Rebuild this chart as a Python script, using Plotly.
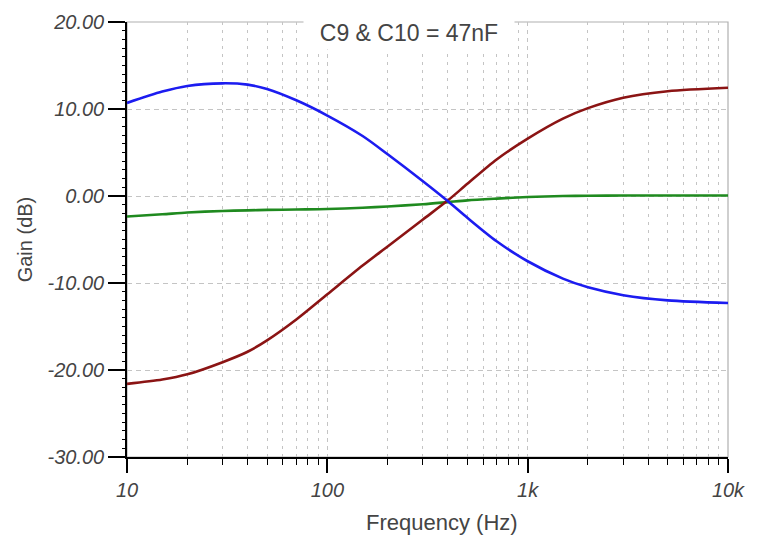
import plotly.graph_objects as go

freq_hz = [10, 15, 20, 30, 40, 50, 70, 100, 150, 200, 300, 400, 500, 700,
           1000, 1500, 2000, 3000, 5000, 10000]
gain_blue = [10.7, 12.0, 12.65, 12.95, 12.8, 12.3, 11.0, 9.25, 6.9, 4.8, 1.7, -0.6,
             -2.5, -5.2, -7.5, -9.5, -10.5, -11.4, -12.0, -12.3]
gain_red = [-21.6, -21.1, -20.5, -19.1, -17.9, -16.6, -14.2, -11.3, -8.0, -5.8, -2.7,
            -0.5, 1.4, 4.2, 6.6, 8.9, 10.1, 11.3, 12.05, 12.45]
gain_green = [-2.35, -2.1, -1.9, -1.72, -1.65, -1.6, -1.55, -1.5, -1.35, -1.2, -0.95,
              -0.7, -0.5, -0.3, -0.12, 0.0, 0.03, 0.05, 0.05, 0.05]

x_tickvals = [10, 100, 1000, 10000]
x_ticktext = ["10", "100", "1k", "10k"]
y_tickvals = [-30, -20, -10, 0, 10, 20]
y_ticktext = ["-30.00", "-20.00", "-10.00", "0.00", "10.00", "20.00"]

fig = go.Figure()
for ys, col in [(gain_green, "#1f8a1f"), (gain_red, "#8b1414"), (gain_blue, "#1c1cf0")]:
    fig.add_trace(go.Scatter(x=freq_hz, y=ys, mode="lines",
                             line=dict(color=col, width=2.6, shape="spline", smoothing=0.8),
                             showlegend=False, hoverinfo="skip"))

tickfont = dict(family="Liberation Sans, Arial", size=20, color="#444444", style="italic")
gridc = "#c4c4c4"

fig.update_layout(
    width=764, height=535,
    margin=dict(l=119, r=44, t=14, b=86),
    paper_bgcolor="white", plot_bgcolor="white",
    xaxis=dict(type="log", range=[1, 4], tickvals=x_tickvals, ticktext=x_ticktext,
               ticks="outside", ticklen=14, tickwidth=1.5, tickcolor="black",
               showline=True, linecolor="black", linewidth=1.5,
               showgrid=True, gridcolor=gridc, griddash="4px,4px", gridwidth=1,
               tickfont=tickfont, zeroline=False, automargin=False,
               minor=dict(dtick="D1", ticks="outside", ticklen=6, tickcolor="black",
                          tickwidth=1.3, showgrid=True, gridcolor=gridc,
                          griddash="3px,5px", gridwidth=1)),
    yaxis=dict(range=[-30, 20], tickvals=y_tickvals, ticktext=y_ticktext,
               ticks="outside", ticklen=17, tickwidth=1.5, tickcolor="black",
               showline=True, linecolor="black", linewidth=1.5,
               showgrid=True, gridcolor=gridc, griddash="5px,4px", gridwidth=1,
               tickfont=tickfont, zeroline=False, automargin=False,
               minor=dict(dtick=1, ticks="outside", ticklen=3, tickcolor="black",
                          tickwidth=1.3, showgrid=False)),
    shapes=[dict(type="rect", xref="paper", yref="paper", x0=0, y0=0, x1=1, y1=1,
                 line=dict(color="#b0b0b0", width=1.2), layer="below")],
    annotations=[
        dict(text="C9 & C10 = 47nF", xref="paper", yref="paper", x=0.469, y=0.974,
             xanchor="center", yanchor="middle", showarrow=False, bgcolor="white",
             width=204, borderpad=3,
             font=dict(family="Liberation Sans, Arial", size=23, color="#444444")),
        dict(text="Frequency (Hz)", xref="paper", yref="paper", x=0.524, y=-0.150,
             xanchor="center", yanchor="middle", showarrow=False,
             font=dict(family="Liberation Sans, Arial", size=22, color="#444444")),
        dict(text="Gain (dB)", xref="paper", yref="paper", x=-0.170, y=0.5,
             xanchor="center", yanchor="middle", showarrow=False, textangle=-90,
             font=dict(family="Liberation Sans, Arial", size=20, color="#444444")),
    ],
)

fig.write_html("out.html")
